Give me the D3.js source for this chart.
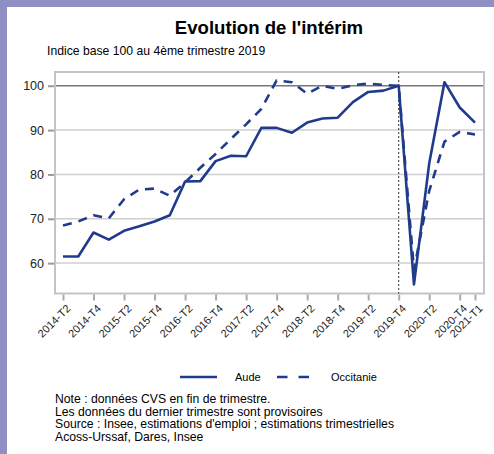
<!DOCTYPE html>
<meta charset="utf-8">
<style>

body {
  margin: 0;
  background-color: #fff;
  font-family: "Liberation Sans", Arial, sans-serif;
}

.axis text {
  font-size: 11px;
  fill: #222;
}

.line {
  fill: none;
  stroke: #213b8c;
  stroke-width: 2.6px;
  stroke-linejoin: round;
}

</style>
<body>
<script src="https://cdn.jsdelivr.net/npm/d3@7"></script>
<div id="container"></div>

<script>

// Quarters from 2014-T2 to 2021-T1
var quarters = ["2014-T2", "2014-T3", "2014-T4", "2015-T1", "2015-T2", "2015-T3", "2015-T4",
  "2016-T1", "2016-T2", "2016-T3", "2016-T4", "2017-T1", "2017-T2", "2017-T3", "2017-T4",
  "2018-T1", "2018-T2", "2018-T3", "2018-T4", "2019-T1", "2019-T2", "2019-T3", "2019-T4",
  "2020-T1", "2020-T2", "2020-T3", "2020-T4", "2021-T1"];

var aude = [61.5, 61.5, 66.9, 65.3, 67.3, 68.3, 69.4, 70.8, 78.4, 78.5, 83.0, 84.2, 84.1,
  90.5, 90.5, 89.4, 91.7, 92.6, 92.8, 96.3, 98.6, 98.9, 100, 55.2, 82.5, 100.8, 95.1, 91.7];

var occitanie = [68.5, 69.4, 70.8, 70.1, 74.4, 76.6, 76.8, 75.2, 78.2, 81.5, 84.6, 88.0,
  91.3, 94.8, 101.2, 100.8, 98.2, 100.0, 99.3, 100.1, 100.5, 100.2, 100, 58.5, 76.3, 87.4, 89.6, 89.0];

var xTicks = ["2014-T2", "2014-T4", "2015-T2", "2015-T4", "2016-T2", "2016-T4", "2017-T2",
  "2017-T4", "2018-T2", "2018-T4", "2019-T2", "2019-T4", "2020-T2", "2020-T4", "2021-T1"];
var yTicks = [60, 70, 80, 90, 100];

var refQuarter = "2019-T4";

var notes = ["Note : données CVS en fin de trimestre.",
  "Les données du dernier trimestre sont provisoires",
  "Source : Insee, estimations d'emploi ; estimations trimestrielles",
  "Acoss-Urssaf, Dares, Insee"];

var W = 494, H = 454;
var plot = {left: 55, top: 72, right: 484, bottom: 293.5};

var svg = d3.select("#container").append("svg")
    .attr("width", W)
    .attr("height", H);

// purple frame (top and left)
svg.append("rect").attr("width", W).attr("height", H).attr("fill", "#8f8fc6");
svg.append("rect").attr("x", 7).attr("y", 7).attr("width", W - 7).attr("height", H - 7).attr("fill", "#fff");

// Set the ranges
var x = d3.scalePoint().domain(quarters).range([63, 475]);
var y = d3.scaleLinear().domain([53.15, 103.1]).range([plot.bottom, plot.top]);

// Gridlines
svg.append("g").selectAll("line")
    .data(yTicks)
  .enter().append("line")
    .attr("x1", plot.left).attr("x2", plot.right)
    .attr("y1", function(d) { return y(d); })
    .attr("y2", function(d) { return y(d); })
    .attr("stroke", function(d) { return d === 100 ? "#777" : "#cfcfcf"; })
    .attr("stroke-width", function(d) { return d === 100 ? 1.3 : 1.5; });

// Frame
svg.append("rect")
    .attr("x", plot.left).attr("y", plot.top)
    .attr("width", plot.right - plot.left)
    .attr("height", plot.bottom - plot.top)
    .attr("fill", "none")
    .attr("stroke", "#c4c4c4")
    .attr("stroke-width", 2);

// Reference vertical line
svg.append("line")
    .attr("x1", x(refQuarter)).attr("x2", x(refQuarter))
    .attr("y1", plot.top).attr("y2", plot.bottom)
    .attr("stroke", "#333")
    .attr("stroke-width", 1)
    .attr("stroke-dasharray", "2,2");

// Y Axis
var yAxis = svg.append("g")
    .attr("class", "y axis")
    .attr("transform", "translate(" + (plot.left - 1) + ",0)")
    .call(d3.axisLeft(y).tickValues(yTicks).tickSize(6).tickPadding(4));
yAxis.select(".domain").remove();
yAxis.selectAll("line").attr("stroke", "#999").attr("stroke-width", 2);
yAxis.selectAll("text").style("font-size", "12.5px");

// X Axis
var xAxis = svg.append("g")
    .attr("class", "x axis")
    .attr("transform", "translate(0," + (plot.bottom + 1) + ")")
    .call(d3.axisBottom(x).tickValues(xTicks).tickSize(6));
xAxis.select(".domain").remove();
xAxis.selectAll("line").attr("stroke", "#aaa").attr("stroke-width", 2);
xAxis.selectAll("text")
    .attr("text-anchor", "end")
    .attr("x", 5)
    .attr("y", 12)
    .attr("dy", "0.35em")
    .attr("transform", "rotate(-45 5 12)");

// Lines
var valueline = d3.line()
    .x(function(d, i) { return x(quarters[i]); })
    .y(function(d) { return y(d); });

svg.append("path")
    .attr("class", "line")
    .attr("d", valueline(occitanie))
    .attr("stroke-dasharray", "9,7");

svg.append("path")
    .attr("class", "line")
    .attr("d", valueline(aude));

// Title
svg.append("text")
    .attr("x", 269).attr("y", 34)
    .attr("text-anchor", "middle")
    .style("font-size", "18.6px")
    .style("font-weight", "bold")
    .text("Evolution de l'intérim");

svg.append("text")
    .attr("x", 47).attr("y", 55)
    .style("font-size", "12.2px")
    .text("Indice base 100 au 4ème trimestre 2019");

// Legend
var legend = svg.append("g").attr("transform", "translate(0,377)");
legend.append("line").attr("class", "line")
    .attr("x1", 180).attr("x2", 217).attr("y1", 0).attr("y2", 0);
legend.append("text").attr("x", 235).attr("y", 4).style("font-size", "11px").text("Aude");
legend.append("line").attr("class", "line")
    .attr("x1", 277).attr("x2", 309).attr("y1", 0).attr("y2", 0)
    .attr("stroke-dasharray", "10.5,11");
legend.append("text").attr("x", 331).attr("y", 4).style("font-size", "11px").text("Occitanie");

// Notes
svg.append("g").selectAll("text")
    .data(notes)
  .enter().append("text")
    .attr("x", 55)
    .attr("y", function(d, i) { return 403 + i * 12.7; })
    .style("font-size", "12.2px")
    .text(function(d) { return d; });

</script>
